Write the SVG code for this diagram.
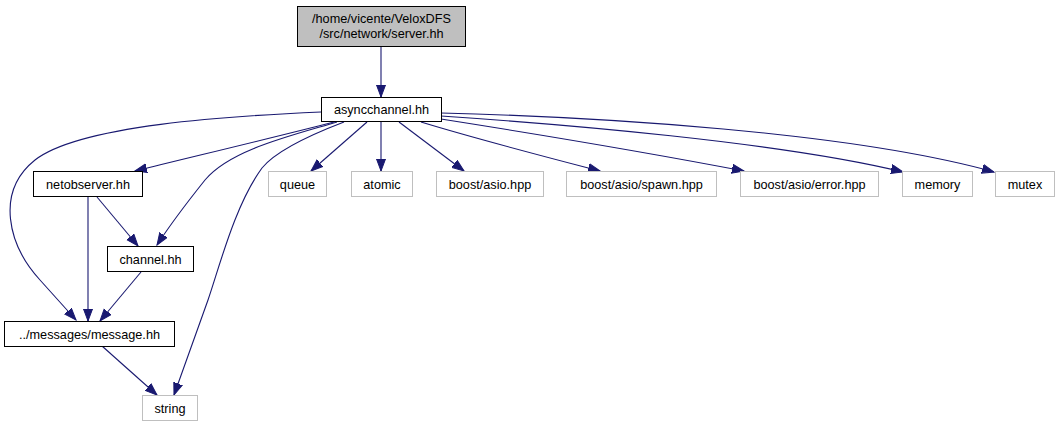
<svg xmlns="http://www.w3.org/2000/svg" width="1060" height="427" viewBox="0 0 1060 427">
<style>
.n rect{fill:#fff;stroke:#000;stroke-width:1}
.x rect{fill:#fff;stroke:#bfbfbf;stroke-width:1}
.r rect{fill:#bfbfbf;stroke:#000;stroke-width:1}
text{font-family:"Liberation Sans",Arial,sans-serif;font-size:12.7px;text-anchor:middle;fill:#000}
.e path{fill:none;stroke:#191970;stroke-width:1.1;marker-end:url(#a)}
</style>
<defs>
<marker id="a" markerUnits="userSpaceOnUse" markerWidth="14" markerHeight="11" refX="12" refY="5" orient="auto">
<path d="M0,0.5 L12,5 L0,9.5 z" fill="#191970" stroke="#191970" stroke-width="1"/>
</marker>
</defs>
<rect width="1060" height="427" fill="#fff"/>
<g class="e" id="edges">
<path d="M381,46 L381,97"/>
<path d="M321,112 C230,116 80,125 35,160 C-5,192 8,245 40,280 L76,320"/>
<path d="M334,122 C280,136 200,155 135,171"/>
<path d="M337,122 C290,136 230,150 205,180 C185,205 170,225 157,245"/>
<path d="M344,122 C310,135 275,152 262,168 C235,205 220,265 208,300 L174,395"/>
<path d="M367,122 L311,171"/>
<path d="M381,122 L381,171"/>
<path d="M399,122 L464,171"/>
<path d="M421,122 C480,140 550,158 600,171"/>
<path d="M441,119 C530,133 650,153 744,171"/>
<path d="M441,116 C560,124 780,142 903,172"/>
<path d="M441,113 C600,117 850,132 994,172"/>
<path d="M88,197 L88,321"/>
<path d="M97,197 L138,246"/>
<path d="M141,272 L100,321"/>
<path d="M102,346 L157,395"/>
</g>
<g id="node_server" class="r"><rect x="297.5" y="6.5" width="168" height="40"/><text x="381.5" y="23">/home/vicente/VeloxDFS</text><text x="381.5" y="38">/src/network/server.hh</text></g>
<g id="node_asyncchannel" class="n"><rect x="321.5" y="97.5" width="120" height="24"/><text x="381.5" y="114">asyncchannel.hh</text></g>
<g id="node_netobserver" class="n"><rect x="33.5" y="171.5" width="109" height="25"/><text x="88" y="188.5">netobserver.hh</text></g>
<g id="node_channel" class="n"><rect x="107.5" y="246.5" width="86" height="25"/><text x="150.5" y="263.5">channel.hh</text></g>
<g id="node_message" class="n"><rect x="4.5" y="321.5" width="170" height="25"/><text x="89.5" y="338.5">../messages/message.hh</text></g>
<g id="node_string" class="x"><rect x="142.5" y="395.5" width="55" height="25"/><text x="170" y="412.5">string</text></g>
<g id="node_queue" class="x"><rect x="268.5" y="171.5" width="58" height="25"/><text x="297.5" y="188.5">queue</text></g>
<g id="node_atomic" class="x"><rect x="351.5" y="171.5" width="61" height="25"/><text x="382" y="188.5">atomic</text></g>
<g id="node_asio" class="x"><rect x="436.5" y="171.5" width="107" height="25"/><text x="490" y="188.5">boost/asio.hpp</text></g>
<g id="node_spawn" class="x"><rect x="566.5" y="171.5" width="150" height="25"/><text x="641.5" y="188.5">boost/asio/spawn.hpp</text></g>
<g id="node_error" class="x"><rect x="740.5" y="171.5" width="138" height="25"/><text x="809.5" y="188.5">boost/asio/error.hpp</text></g>
<g id="node_memory" class="x"><rect x="902.5" y="171.5" width="70" height="25"/><text x="937.5" y="188.5">memory</text></g>
<g id="node_mutex" class="x"><rect x="995.5" y="171.5" width="59" height="25"/><text x="1025" y="188.5">mutex</text></g>
</svg>
